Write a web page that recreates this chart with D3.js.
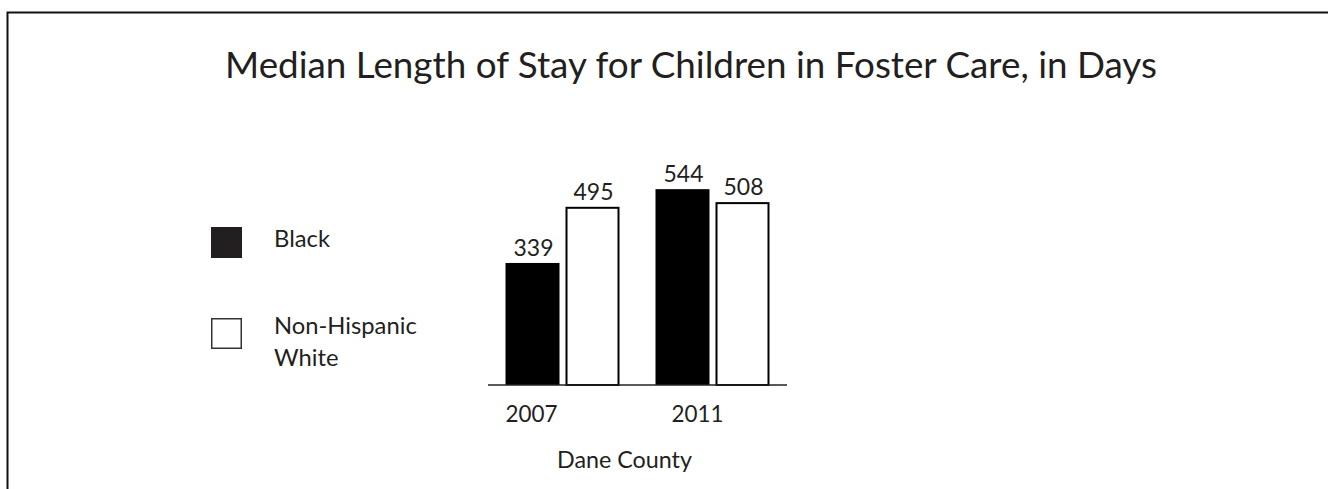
<!DOCTYPE html>
<html>
<head>
<meta charset="utf-8">
<script src="https://cdn.jsdelivr.net/npm/d3@7"></script>
<style>
  html, body { margin: 0; padding: 0; background: #fff; }
  svg { display: block; }
  text { font-family: Lato, "Open Sans", sans-serif; fill: #231f20; }
</style>
</head>
<body>
<svg id="chart" width="1328" height="489"></svg>
<script>
// ---- data ----
const title = "Median Length of Stay for Children in Foster Care, in Days";
const years = ["2007", "2011"];
const seriesNames = ["Black", "Non-Hispanic White"];
const legendLines = [["Black"], ["Non-Hispanic", "White"]];
const blackValues = [339, 544];
const whiteValues = [495, 508];
const xAxisTitle = "Dane County";

const svg = d3.select("#chart");
const W = 1328, H = 489;

// frame (right and bottom edges run off the canvas)
svg.append("path")
  .attr("d", `M7.5,${H + 5} L7.5,12.5 L${W + 5},12.5`)
  .attr("fill", "none").attr("stroke", "#111").attr("stroke-width", 2);

// helper: fit text width
function fit(sel, targetW) {
  const w = sel.node().getComputedTextLength();
  const fs = parseFloat(sel.attr("font-size"));
  sel.attr("font-size", (fs * targetW / w).toFixed(2));
  return sel;
}

// title
fit(svg.append("text").attr("x", 691).attr("y", 78).attr("text-anchor", "middle")
  .attr("font-size", 30).text(title), 932);

// scales
const x0 = d3.scaleBand().domain(years).range([488, 787])
  .paddingInner(0.24).paddingOuter(0.1167);
const x1 = d3.scaleBand().domain(seriesNames).range([0, x0.bandwidth()]).paddingInner(0.1).paddingOuter(0);
const y = d3.scaleLinear().domain([0, 600]).range([385, 169]);

const rows = years.map((yr, i) => ({
  year: yr,
  vals: [
    { s: seriesNames[0], v: blackValues[i] },
    { s: seriesNames[1], v: whiteValues[i] }
  ]
}));

const g = svg.append("g");
const groups = g.selectAll("g.grp").data(rows).join("g")
  .attr("transform", d => `translate(${x0(d.year)},0)`);

groups.selectAll("rect").data(d => d.vals).join("rect")
  .attr("x", d => x1(d.s) + (d.s === seriesNames[0] ? 0 : 1))
  .attr("y", d => y(d.v) + (d.s === seriesNames[0] ? 0 : 1))
  .attr("width", d => x1.bandwidth() - (d.s === seriesNames[0] ? 0 : 2))
  .attr("height", d => y(0) - y(d.v) - (d.s === seriesNames[0] ? 0 : 1))
  .attr("fill", d => d.s === seriesNames[0] ? "#000" : "#fff")
  .attr("stroke", d => d.s === seriesNames[0] ? "none" : "#000")
  .attr("stroke-width", 2);

const lbls = groups.selectAll("text.val").data(d => d.vals).join("text")
  .attr("class", "val")
  .attr("x", d => x1(d.s) + x1.bandwidth() / 2 + 1)
  .attr("y", d => y(d.v) - 7)
  .attr("text-anchor", "middle")
  .attr("font-size", 20)
  .text(d => d.v);
lbls.each(function() { fit(d3.select(this), 40); });

// baseline axis
const xAxis = d3.axisBottom(x0).tickSize(0).tickFormat("");
const ax = svg.append("g").attr("transform", `translate(0,${y(0)})`).call(xAxis);
ax.select(".domain").attr("stroke", "#222").attr("stroke-width", 1.5).attr("d", "M488,0H787");

// category labels
const catDx = [x1(seriesNames[0]) + x1.bandwidth() / 2 - 1, x0.bandwidth() / 2 - 15];
years.forEach((yr, i) => {
  fit(svg.append("text").attr("x", x0(yr) + catDx[i]).attr("y", 422)
    .attr("text-anchor", "middle").attr("font-size", 20).text(yr), 52);
});

// x axis title
fit(svg.append("text").attr("x", 624.5).attr("y", 468).attr("text-anchor", "middle")
  .attr("font-size", 20).text(xAxisTitle), 135);

// legend
const legendY = d3.scalePoint().domain(seriesNames).range([227, 318]);
const leg = svg.append("g");
seriesNames.forEach((s, i) => {
  const top = legendY(s);
  leg.append("rect")
    .attr("x", i === 0 ? 211 : 211.75).attr("y", i === 0 ? top : top + 0.75)
    .attr("width", i === 0 ? 31 : 29.5).attr("height", i === 0 ? 31 : 29.5)
    .attr("fill", i === 0 ? "#231f20" : "#fff")
    .attr("stroke", i === 0 ? "none" : "#333").attr("stroke-width", 1.5);
});
const blackLbl = fit(leg.append("text").attr("x", 274).attr("y", 247).attr("font-size", 18).text(legendLines[0][0]), 56);
const legFs = blackLbl.attr("font-size");
const nh = leg.append("text").attr("x", 274).attr("y", 334).attr("font-size", legFs);
legendLines[1].forEach((line, j) => {
  nh.append("tspan").attr("x", 274).attr("dy", j === 0 ? 0 : 32).text(line);
});
</script>
</body>
</html>
